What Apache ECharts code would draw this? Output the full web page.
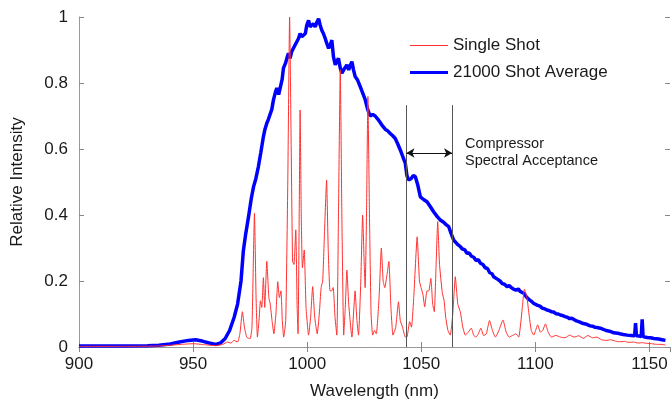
<!DOCTYPE html>
<html>
<head>
<meta charset="utf-8">
<script src="https://cdn.jsdelivr.net/npm/echarts@6/dist/echarts.min.js"></script>
<style>html,body{margin:0;padding:0;background:#fff}#c{width:671px;height:406px}</style>
</head>
<body>
<div id="c"></div>
<script>
// Wavelength (nm) / relative intensity
const avgWavelength = [900,910,920,930,935,940,944,948,951,954,957,960,962,964,966,968,969.5,971,972,973,974.3,975.5,976.5,977.5,978.6,979.7,980.8,981.5,982.3,983,983.8,984.5,985.2,986,986.7,987.5,988.2,989,989.6,990.5,991.3,991.8,992.5,993.2,994,994.7,995.5,996.2,996.9,997.6,998.4,999.2,999.8,1000.6,1001.3,1002,1002.7,1003.5,1004.3,1005,1005.7,1006.4,1007.1,1007.9,1008.6,1009.4,1010.1,1010.8,1011.5,1012.3,1013,1013.7,1014.5,1015.2,1016,1016.8,1017.4,1018.2,1019,1019.6,1020.3,1021,1022,1023.2,1024.3,1025.4,1026.5,1027.6,1028.7,1029.8,1031,1032,1033,1034.2,1035.3,1036.4,1037.5,1038.6,1039.7,1040.8,1042,1043,1043.7,1044.4,1045.5,1046.5,1047.4,1048.5,1049.6,1051,1052.5,1054,1055.4,1057,1058.3,1059.8,1061,1062,1063,1064.2,1065,1066,1067,1068,1069,1070,1071,1072,1073,1074,1075,1075.9,1077,1078,1079,1080,1081,1081.7,1082.5,1083.5,1084.5,1085.5,1086.5,1087.6,1088.5,1089.5,1090.5,1091.5,1092.5,1093.4,1094.2,1095,1096,1097,1098,1099.3,1100,1101,1102,1103,1104,1105.1,1106,1107,1108,1109,1110,1111,1112,1113,1114,1115,1116,1116.8,1118,1119,1120,1121,1122,1122.7,1124,1125,1126,1127,1128.5,1130,1131,1132.5,1134.4,1136,1137,1138.5,1140.2,1142,1143.5,1143.9,1144.3,1145.5,1146.4,1146.8,1147.2,1148,1149,1150.5,1151.9,1153,1154,1155.5,1157];
const avgIntensity = [0.003,0.003,0.003,0.004,0.005,0.009,0.015,0.02,0.022,0.018,0.012,0.008,0.012,0.025,0.05,0.09,0.13,0.2,0.29,0.34,0.395,0.45,0.486,0.51,0.546,0.59,0.637,0.66,0.678,0.69,0.685,0.72,0.748,0.77,0.785,0.765,0.77,0.81,0.845,0.86,0.88,0.89,0.875,0.895,0.89,0.915,0.92,0.935,0.95,0.94,0.935,0.95,0.975,0.99,0.97,0.965,0.98,0.97,0.985,0.995,0.975,0.96,0.95,0.935,0.92,0.905,0.915,0.93,0.88,0.855,0.865,0.875,0.845,0.83,0.84,0.845,0.855,0.84,0.855,0.865,0.84,0.82,0.81,0.79,0.77,0.75,0.72,0.70,0.705,0.70,0.69,0.68,0.67,0.66,0.655,0.647,0.64,0.632,0.615,0.597,0.575,0.557,0.52,0.506,0.51,0.52,0.516,0.49,0.455,0.447,0.44,0.425,0.41,0.395,0.385,0.378,0.37,0.365,0.345,0.324,0.33,0.31,0.305,0.297,0.295,0.284,0.285,0.275,0.272,0.262,0.265,0.254,0.25,0.24,0.238,0.225,0.222,0.213,0.215,0.205,0.2,0.192,0.19,0.183,0.186,0.18,0.175,0.172,0.176,0.168,0.17,0.162,0.152,0.145,0.14,0.132,0.134,0.126,0.124,0.118,0.116,0.112,0.11,0.107,0.106,0.101,0.1,0.097,0.095,0.092,0.09,0.086,0.087,0.082,0.079,0.077,0.074,0.071,0.07,0.067,0.064,0.063,0.06,0.059,0.057,0.053,0.05,0.048,0.043,0.042,0.04,0.038,0.036,0.035,0.034,0.072,0.034,0.033,0.032,0.084,0.032,0.031,0.029,0.028,0.026,0.025,0.024,0.022,0.02];

const shotWavelength = [900,920,935,945,950,955,960,963,965,966.5,968,969.5,970.5,971.6,972.5,973.5,975,975.8,976.9,977.6,978.2,979,979.5,980.1,980.8,981.4,982.3,983.2,983.8,984.6,985.4,986.3,987.1,987.8,988.5,989.1,989.7,990.6,991.5,992.3,993,993.6,994.2,995,995.6,996,996.5,996.9,997.4,997.9,998.7,999.5,1000.6,1001.5,1002.4,1003.3,1004.4,1005.3,1006.1,1006.8,1007.6,1008.5,1009.2,1010,1010.7,1011.4,1012.2,1013,1013.7,1014.5,1015.2,1016,1016.7,1017.4,1018.2,1019.6,1020.3,1021,1021.8,1022.5,1023.5,1024.3,1025,1025.4,1026,1026.6,1027.3,1028,1028.7,1029.5,1030.3,1031.5,1032.5,1033.3,1034,1035,1035.8,1036.7,1037.6,1038.8,1040,1040.8,1041.8,1043,1043.7,1044.9,1045.7,1046.7,1048.2,1049.2,1049.9,1050.7,1051.5,1052.5,1053.3,1054.2,1055,1055.7,1056.5,1057.2,1058,1059.2,1060,1060.7,1061.7,1062.7,1063.8,1064.9,1066,1067.1,1068.2,1069.3,1070.6,1071.9,1073,1074,1075,1076.1,1077.3,1078.5,1079.9,1081.2,1082.5,1084,1085.8,1087.2,1088.5,1090,1091.5,1092.7,1094,1095.2,1096.3,1097.2,1098.2,1099.3,1100.1,1101,1102.2,1103.2,1104.4,1105.6,1107,1109,1111,1113,1115,1117,1119,1121,1123,1125,1127,1129,1131,1133,1135,1137,1139,1141,1143,1145,1147,1149,1151,1153,1155,1157];
const shotIntensity = [0.002,0.002,0.003,0.008,0.01,0.007,0.004,0.008,0.015,0.012,0.02,0.015,0.04,0.107,0.06,0.03,0.025,0.06,0.405,0.15,0.03,0.09,0.14,0.12,0.21,0.12,0.26,0.15,0.13,0.08,0.04,0.1,0.198,0.15,0.17,0.08,0.03,0.08,0.5,1.0,0.6,0.26,0.25,0.355,0.12,0.04,0.4,0.718,0.4,0.24,0.294,0.12,0.036,0.09,0.183,0.09,0.04,0.1,0.18,0.2,0.35,0.506,0.3,0.17,0.17,0.18,0.09,0.036,0.4,0.84,0.4,0.036,0.12,0.233,0.13,0.03,0.1,0.17,0.08,0.036,0.2,0.40,0.25,0.18,0.4,0.759,0.4,0.1,0.036,0.05,0.04,0.15,0.30,0.2,0.18,0.22,0.259,0.12,0.036,0.06,0.137,0.08,0.06,0.03,0.03,0.077,0.06,0.15,0.334,0.2,0.18,0.16,0.122,0.17,0.17,0.208,0.13,0.107,0.25,0.38,0.25,0.165,0.14,0.09,0.05,0.036,0.1,0.213,0.13,0.107,0.06,0.036,0.045,0.057,0.035,0.03,0.04,0.057,0.035,0.04,0.08,0.05,0.03,0.05,0.082,0.045,0.03,0.035,0.04,0.03,0.1,0.175,0.15,0.1,0.05,0.036,0.05,0.067,0.045,0.05,0.07,0.045,0.03,0.035,0.03,0.028,0.036,0.03,0.034,0.026,0.035,0.028,0.03,0.022,0.02,0.022,0.018,0.016,0.017,0.014,0.015,0.012,0.013,0.011,0.01,0.008,0.008,0.006];

const acceptanceEdges = [1043.5, 1063.5];
const acceptanceTop = 0.733;
const arrowLevel = 0.588;

const xTicks = [900, 950, 1000, 1050, 1100, 1150];
const yTicks = [0, 0.2, 0.4, 0.6, 0.8, 1];

const font = '"Liberation Sans", Arial, sans-serif';
const pair = (xs, ys) => xs.map((x, i) => [x, ys[i]]);

const chart = echarts.init(document.getElementById('c'));
const axisCommon = {
  axisLine: { show: true, lineStyle: { color: '#999', width: 1 } },
  axisTick: { show: true, inside: true, length: 5, lineStyle: { color: '#888' } },
  splitLine: { show: false }
};
chart.setOption({
  animation: false,
  grid: { left: 79, top: 17, width: 591, height: 330, containLabel: false },
  legend: {
    orient: 'vertical', left: 410, top: 37, padding: 0, itemWidth: 38, itemHeight: 14, itemGap: 10,
    symbolKeepAspect: true,
    data: [
      { name: 'Single Shot', icon: 'path://M0,0H38V1H0Z' },
      { name: '21000 Shot Average', icon: 'path://M0,0H38V3H0Z' }
    ],
    textStyle: { fontFamily: font, fontSize: 17, color: '#1a1a1a' }
  },
  xAxis: [
    Object.assign({
      type: 'value', min: 900, max: 1159, interval: 50, position: 'bottom',
      name: 'Wavelength (nm)', nameLocation: 'middle', nameGap: 36,
      nameTextStyle: { fontFamily: font, fontSize: 17, color: '#1a1a1a' },
      axisLabel: { fontFamily: font, fontSize: 17, color: '#1a1a1a', margin: 9, showMaxLabel: false,
        formatter: v => xTicks.includes(v) ? String(v) : '' }
    }, axisCommon),
    Object.assign({
      type: 'value', min: 900, max: 1159, interval: 50, position: 'top',
      axisLabel: { show: false }
    }, axisCommon)
  ],
  yAxis: [
    Object.assign({
      type: 'value', min: 0, max: 1, interval: 0.2, position: 'left',
      name: 'Relative Intensity', nameLocation: 'middle', nameGap: 53,
      nameTextStyle: { fontFamily: font, fontSize: 17, color: '#1a1a1a' },
      axisLabel: { fontFamily: font, fontSize: 17, color: '#1a1a1a', margin: 11,
        formatter: v => yTicks.some(t => Math.abs(t - v) < 1e-9) ? String(+v.toFixed(1)) : '' }
    }, axisCommon),
    Object.assign({
      type: 'value', min: 0, max: 1, interval: 0.2, position: 'right',
      axisLabel: { show: false }
    }, axisCommon, { axisLine: { show: false } })
  ],
  series: [
    {
      name: '21000 Shot Average', type: 'line', data: pair(avgWavelength, avgIntensity),
      symbol: 'none', z: 2, lineStyle: { color: '#0000ff', width: 3.5 }, itemStyle: { color: '#0000ff' }
    },
    {
      name: 'Single Shot', type: 'line', data: pair(shotWavelength, shotIntensity),
      symbol: 'none', z: 3, smooth: 0.15, lineStyle: { color: '#ff3030', width: 1 }, itemStyle: { color: '#ff3030' },
      markLine: {
        silent: true, symbol: ['none', 'none'], label: { show: false },
        lineStyle: { color: '#555', width: 1, type: 'solid' },
        data: [
          [{ coord: [acceptanceEdges[0], 0] }, { coord: [acceptanceEdges[0], acceptanceTop] }],
          [{ coord: [acceptanceEdges[1], 0] }, { coord: [acceptanceEdges[1], acceptanceTop] }],
          [{ coord: [acceptanceEdges[0], arrowLevel], symbol: 'arrow', symbolSize: [7, 8], lineStyle: { color: '#111' } },
           { coord: [acceptanceEdges[1], arrowLevel], symbol: 'arrow', symbolSize: [7, 8] }]
        ]
      }
    }
  ],
  graphic: [
    { type: 'text', left: 465, top: 135, style: { text: 'Compressor\nSpectral Acceptance', fontFamily: font, fontSize: 14.5, lineHeight: 17, fill: '#1a1a1a' } }
  ]
});
</script>
</body>
</html>
